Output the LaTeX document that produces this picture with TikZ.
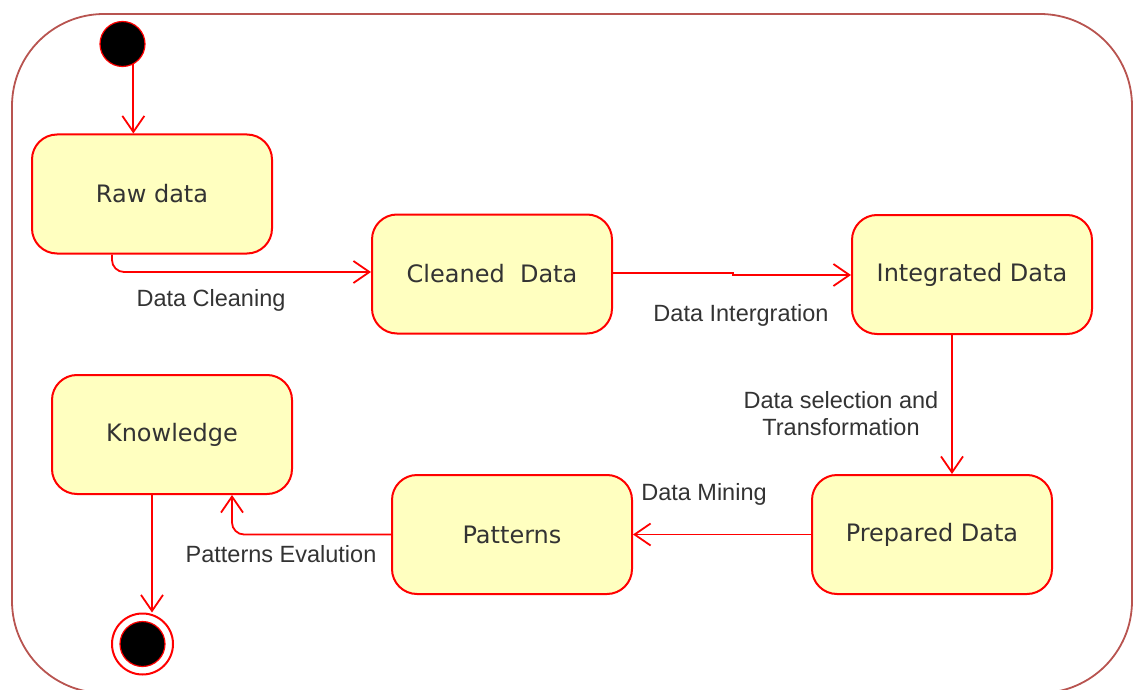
\documentclass[tikz,border=0pt]{standalone}
\usepackage{fontspec}
\setmainfont{Liberation Sans}
\newfontfamily\statefont{DejaVu Sans}
\usetikzlibrary{arrows.meta,calc}
\definecolor{frameRed}{HTML}{B85450}
\definecolor{lineRed}{HTML}{FF0000}
\definecolor{stateFill}{HTML}{FFFFC0}
\definecolor{txt}{HTML}{333333}

\begin{document}
\begin{tikzpicture}[x=1pt,y=-1pt,
  state/.style={draw=lineRed, fill=stateFill, line width=2pt, rounded corners=25pt,
    minimum width=240pt, minimum height=119pt, inner sep=0pt,
    font=\statefont\fontsize{24}{28}\selectfont, text=txt},
  flow/.style={draw=lineRed, line width=1.8pt,
    -{Straight Barb[length=16pt,width=22pt,line width=1.8pt]}},
  lbl/.style={font=\fontsize{23.5}{27}\selectfont, text=txt, align=center, inner sep=0pt},
  pseudo/.style={circle, inner sep=0pt, draw=lineRed},
]
\useasboundingbox (0,0) rectangle (1138,690);

% outer frame
\draw[frameRed, line width=1.8pt, rounded corners=92pt] (12,14) rectangle (1132,693);

% initial and final pseudo-states
\node[pseudo, fill=black, line width=1.2pt, minimum size=45pt] (start) at (122.5,44) {};
\node[pseudo, line width=2pt, minimum size=61pt] (final) at (142.5,644) {};
\node[pseudo, fill=black, line width=1.2pt, minimum size=45pt] (finaldot) at (final) {};

% states
\node[state] (raw)        at (152,194)   {Raw data};
\node[state] (cleaned)    at (492,274)   {Cleaned\ \ Data};
\node[state] (integrated) at (972,274.5) {Integrated Data};
\node[state] (prepared)   at (932,534.5) {Prepared Data};
\node[state] (patterns)   at (512,534.5) {Patterns};
\node[state] (knowledge)  at (172,434.5) {Knowledge};

% transitions
\draw[flow] (start.-62) -- (start.-62 |- raw.north);
\draw[flow, rounded corners=12pt] ([xshift=-40pt]raw.south) |- ([yshift=2pt]cleaned.west);
\draw[flow] ([yshift=1pt]cleaned.east) -- ++(120,0) |- ([yshift=-0.5pt]integrated.west);
\draw[flow] ([xshift=-20pt]integrated.south) -- ([xshift=20pt]prepared.north);
\draw[flow] (prepared.west) -- (patterns.east);
\draw[flow, rounded corners=12pt] (patterns.west) -| ([xshift=60pt]knowledge.south);
\draw[flow] ([xshift=-20pt]knowledge.south) -- ([xshift=-20pt]knowledge.south |- final.north);

% transition labels
\node[lbl] (lclean) at (211,300) {Data Cleaning};
\node[lbl] (linteg) at (741,315) {Data Intergration};
\node[lbl] (lsel)   at (841,414) {Data selection and\\Transformation};
\node[lbl] (lmine)  at (704,494) {Data Mining};
\node[lbl] (leval)  at (281,554) {Patterns Evalution};
\end{tikzpicture}
\end{document}
